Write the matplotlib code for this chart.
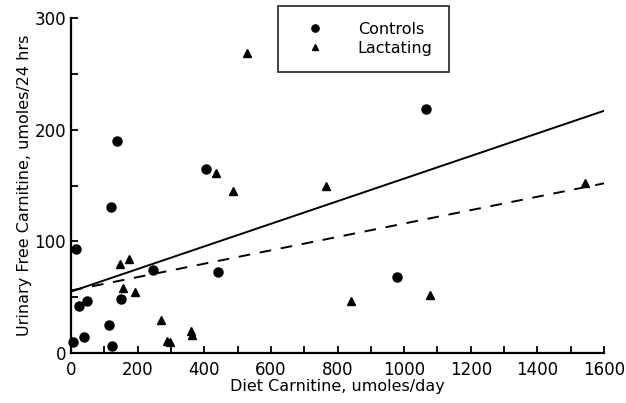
import numpy as np
import matplotlib.pyplot as plt
from matplotlib.ticker import MultipleLocator

# controls (circles)
ctrl_x = [5, 15, 25, 38, 47, 115, 119, 124, 139, 149, 246, 404, 442, 980, 1066]
ctrl_y = [10, 93, 42, 14, 47, 25, 131, 6, 190, 48, 74, 165, 73, 68, 219]

# lactating (triangles)
lact_x = [147, 156, 174, 192, 270, 288, 296, 361, 363, 436, 486, 528, 765, 839, 1078, 1543]
lact_y = [80, 58, 84, 55, 30, 11, 10, 20, 16, 161, 145, 269, 150, 47, 52, 152]

# regression lines
line_x = [0, 1600]
solid_y = [55, 217]
dashed_y = [56, 152]

plt.rcParams['font.family'] = ['DejaVu Sans']

fig = plt.figure(figsize=(6.26, 4.03), dpi=100)
ax = fig.add_axes([0.1134, 0.124, 0.8515, 0.831])

ax.plot(ctrl_x, ctrl_y, 'o', color='black', markersize=6.5, label='Controls', clip_on=False, zorder=3)
ax.plot(lact_x, lact_y, '^', color='black', markersize=6, label='Lactating', clip_on=False, zorder=3)
ax.plot(line_x, solid_y, '-', color='black', linewidth=1.4)
ax.plot(line_x, dashed_y, '--', color='black', linewidth=1.4, dashes=(6, 5))

ax.set_xlim(0, 1600)
ax.set_ylim(0, 300)
ax.xaxis.set_major_locator(MultipleLocator(200))
ax.xaxis.set_minor_locator(MultipleLocator(100))
ax.yaxis.set_major_locator(MultipleLocator(100))
ax.yaxis.set_minor_locator(MultipleLocator(50))
ax.tick_params(which='both', direction='in', width=1.3, labelsize=12)
ax.tick_params(which='both', length=5)
ax.tick_params(axis='x', pad=6)

for s in ['top', 'right']:
    ax.spines[s].set_visible(False)
for s in ['left', 'bottom']:
    ax.spines[s].set_linewidth(1.6)

ax.set_xlabel('Diet Carnitine, umoles/day', fontsize=11.5, labelpad=0)
ax.set_ylabel('Urinary Free Carnitine, umoles/24 hrs', fontsize=11.5, labelpad=2)

leg = ax.legend(loc='upper left', bbox_to_anchor=(0.388, 1.036), borderaxespad=0,
                fontsize=11.5, frameon=True, fancybox=False, edgecolor='black',
                handletextpad=1.4, borderpad=1.0, markerscale=0.8,
                labelspacing=0.25, handlelength=2.6)
leg.get_frame().set_linewidth(1.3)

fig.savefig('out.png', dpi=100)
